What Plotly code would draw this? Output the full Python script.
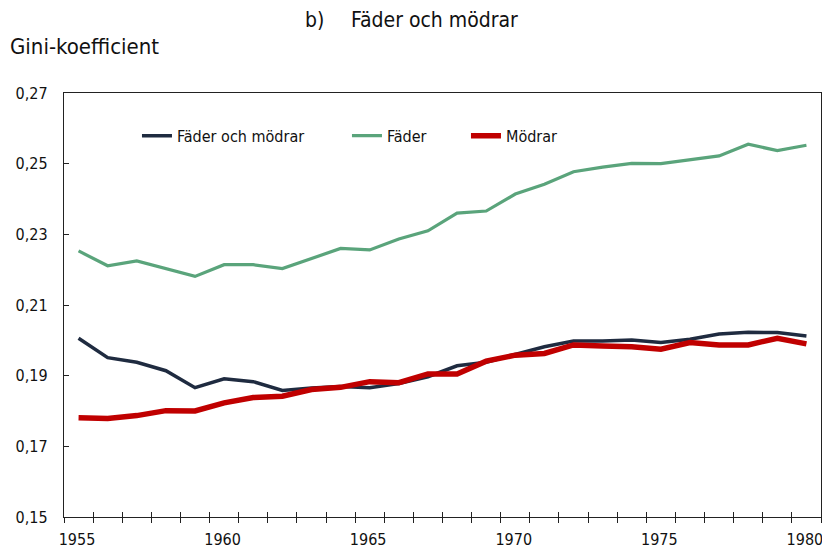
import plotly.graph_objects as go

years = list(range(1955, 1981))

# Gini-koefficient, fäder och mödrar tillsammans
both = [0.2006, 0.1951, 0.1938, 0.1914, 0.1866, 0.1891, 0.1883, 0.1858, 0.1865, 0.1869,
        0.1866, 0.1878, 0.1897, 0.1928, 0.1938, 0.1961, 0.1982, 0.1998, 0.1998, 0.2001,
        0.1994, 0.2003, 0.2018, 0.2023, 0.2022, 0.2012]
fathers = [0.2253, 0.2211, 0.2225, 0.2203, 0.2181, 0.2214, 0.2214, 0.2203, 0.2232, 0.2260,
           0.2256, 0.2287, 0.2310, 0.2360, 0.2366, 0.2414, 0.2442, 0.2477, 0.2490, 0.2501,
           0.2500, 0.2510, 0.2522, 0.2555, 0.2537, 0.2552]
mothers = [0.1781, 0.1779, 0.1787, 0.1801, 0.1800, 0.1823, 0.1838, 0.1842, 0.1861, 0.1867,
           0.1883, 0.1880, 0.1905, 0.1905, 0.1941, 0.1958, 0.1963, 0.1987, 0.1984, 0.1982,
           0.1975, 0.1994, 0.1987, 0.1987, 0.2006, 0.1990]

label_years = [1955, 1960, 1965, 1970, 1975, 1980]
y_ticks = [0.15, 0.17, 0.19, 0.21, 0.23, 0.25, 0.27]

# category-style axis: ticks sit between years, labels shifted about half a year right
boundaries = [y - 0.5 for y in years] + [years[-1] + 0.5]
bound_text = [str(int(b + 0.5)) if int(b + 0.5) in label_years else "" for b in boundaries]

FONT = dict(family="DejaVu Sans Condensed, DejaVu Sans, sans-serif", color="#111111")
xr = [years[0] - 0.5, years[-1] + 0.5]

fig = go.Figure()
fig.add_trace(go.Scatter(x=years, y=both, mode="lines", name="Fäder och mödrar",
                         line=dict(color="#1f2b40", width=3.5), legend="legend"))
fig.add_trace(go.Scatter(x=years, y=fathers, mode="lines", name="Fäder",
                         line=dict(color="#5aa47b", width=3.2), legend="legend2"))
fig.add_trace(go.Scatter(x=years, y=mothers, mode="lines", name="Mödrar",
                         line=dict(color="#c00000", width=5.5), legend="legend3"))

# invisible helper so the inside half of the crossing ticks gets drawn
fig.add_trace(go.Scatter(x=years, y=both, xaxis="x2", mode="lines", opacity=0,
                         line=dict(width=0), showlegend=False, hoverinfo="skip"))

leg = dict(orientation="h", y=0.899, xanchor="left", yanchor="middle",
           bgcolor="rgba(0,0,0,0)", font=dict(size=16, **FONT))

fig.update_layout(
    width=814, height=545,
    margin=dict(l=56, r=1, t=85, b=36),
    paper_bgcolor="white", plot_bgcolor="white",
    separators=",.",
    font=dict(size=16, **FONT),
    showlegend=True,
    legend=dict(x=0.0964, **leg),
    legend2=dict(x=0.3738, **leg),
    legend3=dict(x=0.5310, **leg),
    xaxis=dict(range=xr, tickmode="array", tickvals=boundaries, ticktext=bound_text,
               ticks="outside", ticklen=5, tickwidth=1, tickcolor="#222222",
               ticklabelshift=13, ticklabelstandoff=3, automargin=False,
               ticklabeloverflow="allow",
               showgrid=False, zeroline=False, showline=True, linecolor="#222222",
               linewidth=1.3, mirror=True, tickfont=dict(size=16, **FONT)),
    xaxis2=dict(overlaying="x", range=xr, tickmode="array", tickvals=boundaries,
                ticks="inside", ticklen=5, tickwidth=1, tickcolor="#222222",
                showticklabels=False, showgrid=False, zeroline=False, showline=False,
                side="bottom", anchor="y", automargin=False),
    yaxis=dict(range=[0.15, 0.27], tickmode="array", tickvals=y_ticks, tickformat=".2f",
               ticks="inside", ticklen=5, tickcolor="#222222", showgrid=False,
               zeroline=False, showline=True, linecolor="#222222", linewidth=1.3,
               mirror=True, tickfont=dict(size=16, **FONT), ticklabelstandoff=12,
               automargin=False),
)

fig.add_annotation(text="b)", xref="paper", yref="paper",
                   x=0.3157, y=1, yshift=73, xanchor="left", yanchor="middle",
                   showarrow=False, font=dict(size=21, **FONT))
fig.add_annotation(text="Fäder och mödrar", xref="paper", yref="paper",
                   x=0.3765, y=1, yshift=73, xanchor="left", yanchor="middle",
                   showarrow=False, font=dict(size=21, **FONT))
fig.add_annotation(text="Gini-koefficient", xref="paper", yref="paper",
                   x=0, xshift=-56, y=1, yshift=47, xanchor="left", yanchor="middle",
                   showarrow=False, font=dict(size=22, **FONT))

fig.write_html("out.html")
